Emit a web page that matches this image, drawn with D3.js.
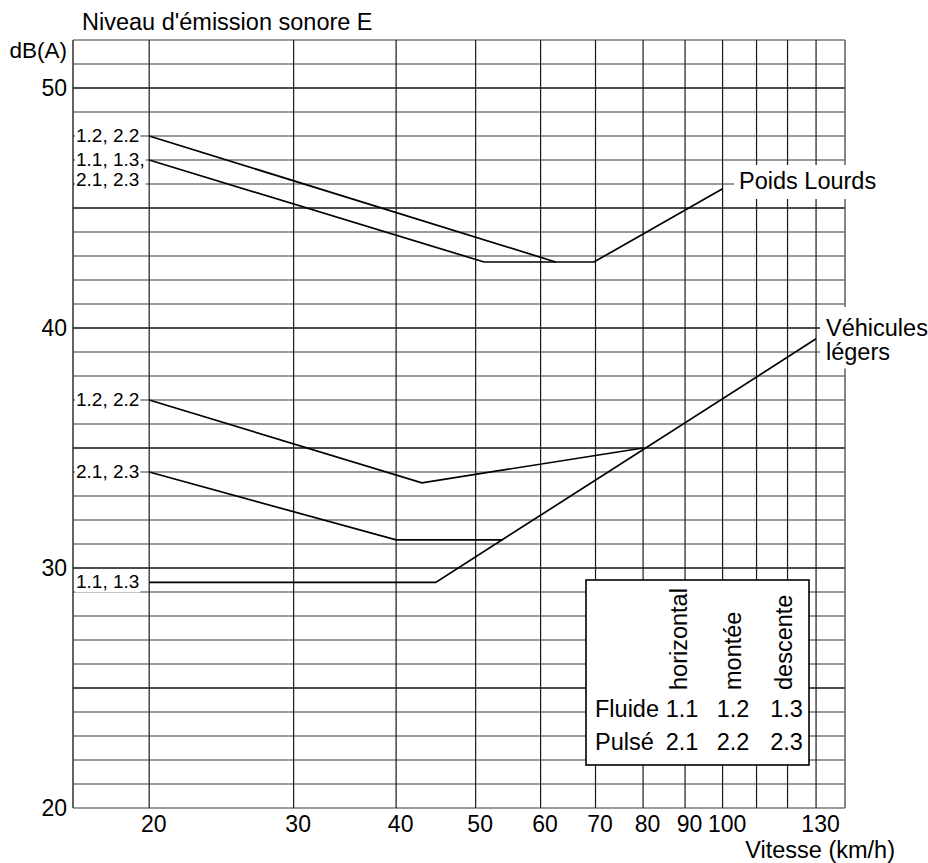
<!DOCTYPE html>
<html>
<head>
<meta charset="utf-8">
<script src="https://cdn.jsdelivr.net/npm/d3@7"></script>
<style>
  html, body { margin: 0; padding: 0; background: #fff; }
  svg { display: block; }
  text { font-family: "Liberation Sans", Arial, Helvetica, sans-serif; fill: #000; }
</style>
</head>
<body>
<svg id="chart" width="928" height="863"></svg>
<script>
// Speed axis (km/h, logarithmic) and level axis (dB(A))
const speedTickLabels = [20, 30, 40, 50, 60, 70, 80, 90, 100, 130];
const speedGridLines = [20, 30, 40, 50, 60, 70, 80, 90, 100, 110, 120, 130];
const levelTickLabels = [20, 30, 40, 50];

// Emission level curves: [speed km/h, level dB(A)]
// Poids lourds
const plHorizontalDescente = [[20, 47], [51.2, 42.75], [69.7, 42.75], [100, 45.8]]; // 1.1, 1.3, 2.1, 2.3
const plMontee = [[20, 48], [62.6, 42.75]];                                          // 1.2, 2.2
// Véhicules légers
const vlFluide = [[20, 29.4], [44.7, 29.4], [130, 39.55]];                           // 1.1, 1.3
const vlPulse = [[20, 34], [40, 31.17], [54, 31.17]];                                // 2.1, 2.3
const vlMontee = [[20, 37], [43, 33.55], [80, 35]];                                  // 1.2, 2.2

// Start-of-curve labels
const curveLabels = [
  { lines: ["1.2, 2.2"], series: plMontee },
  { lines: ["1.1, 1.3,", "2.1, 2.3"], series: plHorizontalDescente },
  { lines: ["1.2, 2.2"], series: vlMontee },
  { lines: ["2.1, 2.3"], series: vlPulse },
  { lines: ["1.1, 1.3"], series: vlFluide }
];

// Legend table of traffic codes
const tableColumns = ["horizontal", "montée", "descente"];
const tableRows = ["Fluide", "Pulsé"];
const tableCodes = [["1.1", "1.2", "1.3"], ["2.1", "2.2", "2.3"]];

const svg = d3.select("#chart");
const W = 928;
const plotLeft = 73, plotRight = 845, plotTop = 40, plotBottom = 808;

const x = d3.scaleLog().domain([16.15, 141]).range([plotLeft, plotRight]);
const y = d3.scaleLinear().domain([20, 52]).range([plotBottom, plotTop]);

// ---- grid ----
const grid = svg.append("g");
const levels = d3.range(20, 53);
grid.selectAll("line.h").data(levels).join("line")
  .attr("x1", plotLeft).attr("x2", plotRight)
  .attr("y1", d => y(d)).attr("y2", d => y(d))
  .attr("stroke", d => (d % 5 === 0 && d !== 20) ? "#111" : "#7a7a7a")
  .attr("stroke-width", d => (d % 5 === 0 && d !== 20) ? 1.7 : 1.4);

grid.selectAll("line.v").data(speedGridLines).join("line")
  .attr("x1", d => x(d)).attr("x2", d => x(d))
  .attr("y1", plotTop).attr("y2", plotBottom)
  .attr("stroke", "#1a1a1a").attr("stroke-width", 1.2);

grid.append("line").attr("x1", plotLeft).attr("x2", plotLeft).attr("y1", plotTop).attr("y2", plotBottom)
  .attr("stroke", "#222").attr("stroke-width", 1.4);
grid.append("line").attr("x1", plotRight).attr("x2", plotRight).attr("y1", plotTop).attr("y2", plotBottom)
  .attr("stroke", "#555").attr("stroke-width", 1.4);

// ---- curves ----
const line = d3.line().x(d => x(d[0])).y(d => y(d[1]));
const curves = [plHorizontalDescente, plMontee, vlFluide, vlPulse, vlMontee];
svg.append("g").selectAll("path").data(curves).join("path")
  .attr("d", line)
  .attr("fill", "none").attr("stroke", "#000").attr("stroke-width", 1.7)
  .attr("stroke-linejoin", "miter");

// ---- axes ----
const yAxis = d3.axisLeft(y).tickValues(levelTickLabels).tickSize(0).tickPadding(6);
const yg = svg.append("g").attr("transform", `translate(${plotLeft},0)`).call(yAxis);
yg.select(".domain").remove();
yg.selectAll("text").attr("font-size", 23).attr("font-family", "Liberation Sans, Arial, sans-serif").attr("fill", "#000");

const xAxis = d3.axisBottom(x).tickValues(speedTickLabels).tickFormat(d3.format("d")).tickSize(0).tickPadding(8);
const xg = svg.append("g").attr("transform", `translate(0,${plotBottom})`).call(xAxis);
xg.select(".domain").remove();
xg.selectAll("text").attr("font-size", 23).attr("dx", 4).attr("font-family", "Liberation Sans, Arial, sans-serif").attr("fill", "#000");

// axis titles
svg.append("text").attr("x", 82).attr("y", 30).attr("font-size", 23.5).text("Niveau d'émission sonore E");
svg.append("text").attr("x", 67).attr("y", 58).attr("font-size", 22.5).attr("text-anchor", "end").text("dB(A)");
svg.append("text").attr("x", 895).attr("y", 858).attr("font-size", 23.5).attr("text-anchor", "end").text("Vitesse (km/h)");

// ---- labelled text with white backing ----
function backedText(g, xPos, yPos, lines, size, anchor, lineGap, pad) {
  const grp = g.append("g");
  const rect = grp.append("rect").attr("fill", "#fff");
  const t = grp.append("text").attr("font-size", size).attr("text-anchor", anchor);
  lines.forEach((s, i) => {
    t.append("tspan").attr("x", xPos).attr("y", yPos + i * lineGap).text(s);
  });
  const b = t.node().getBBox();
  rect.attr("x", b.x - pad.l).attr("y", b.y - pad.t)
    .attr("width", b.width + pad.l + pad.r).attr("height", b.height + pad.t + pad.b);
  return { grp, rect, box: b };
}

const labelLayer = svg.append("g");
curveLabels.forEach(c => {
  const start = c.series[0];
  backedText(labelLayer, plotLeft + 3, y(start[1]) + 6, c.lines, 19, "start", 19.5,
    { l: 1, r: 1, t: 0, b: 0 });
});

// vehicle class labels
const pl = backedText(labelLayer, 739, 189, ["Poids Lourds"], 23.5, "start", 24, { l: 5, r: 0, t: 3, b: 5 });
pl.rect.attr("width", W - (pl.box.x - 5));
const vl = backedText(labelLayer, 826, 336, ["Véhicules", "légers"], 23.5, "start", 23.5, { l: 6, r: 0, t: 8, b: 4 });
vl.rect.attr("width", W - (vl.box.x - 6));

// ---- legend table ----
const table = svg.append("g");
table.append("rect").attr("x", 586).attr("y", 580).attr("width", 223).attr("height", 185)
  .attr("fill", "#fff").attr("stroke", "#000").attr("stroke-width", 1.6);

const colX = [682, 733, 786.5];
const headerBase = [686.5, 740.5, 792];
tableColumns.forEach((c, i) => {
  table.append("text").attr("font-size", 23.5)
    .attr("transform", `translate(${headerBase[i]},690) rotate(-90)`)
    .text(c);
});
const rowY = [717, 750];
tableRows.forEach((r, j) => {
  table.append("text").attr("x", 595).attr("y", rowY[j]).attr("font-size", 23.5).text(r);
  tableCodes[j].forEach((code, i) => {
    table.append("text").attr("x", colX[i]).attr("y", rowY[j]).attr("font-size", 23.5)
      .attr("text-anchor", "middle").text(code);
  });
});
</script>
</body>
</html>
